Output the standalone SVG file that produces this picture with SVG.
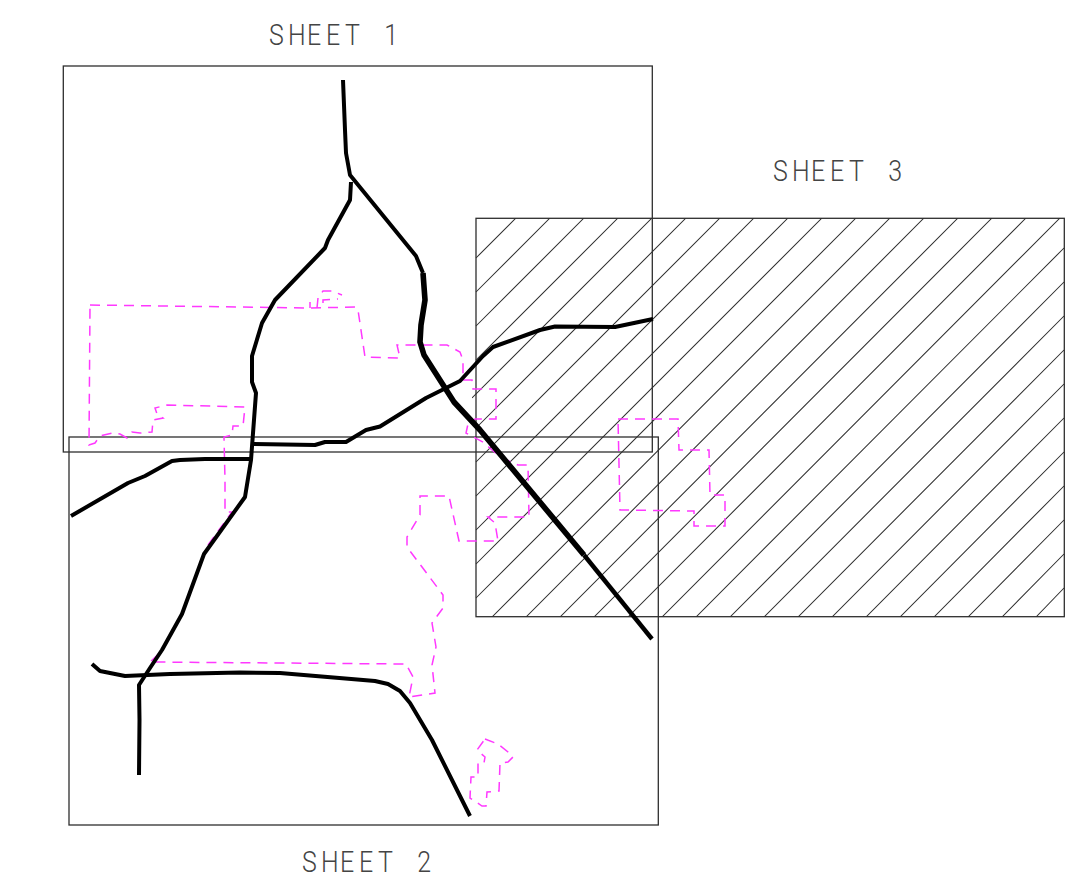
<svg xmlns="http://www.w3.org/2000/svg" width="1074" height="878" viewBox="0 0 1074 878">
<style>
.sheet{fill:none;stroke:#2e2e2e;stroke-width:1.3}
.hatch{fill:none;stroke:#2e2e2e;stroke-width:1.05}
.road{fill:none;stroke:#000;stroke-width:4;stroke-linejoin:round;stroke-linecap:butt}
.heavy{stroke-width:5.6}
.med{stroke-width:4.4}
.bound{fill:none;stroke:#ff38ff;stroke-width:1.5;stroke-dasharray:10 7}
.label{font-family:Roboto,"Liberation Sans",sans-serif;font-weight:300;font-size:29px;fill:#444}
</style>
<defs>
<clipPath id="sheet3clip"><rect x="472" y="218" width="594" height="399"/></clipPath>
</defs>
<rect width="1074" height="878" fill="#fff"/>
<g id="sheet-3">
<path class="hatch" clip-path="url(#sheet3clip)" d="M516 218L476 258M550 218L476 292M584 218L476 326M618 218L476 360M652 218L472 398M686 218L476 428M720 218L476 462M754 218L476 496M788 218L476 530M822 218L476 564M856 218L476 598M890 218L492 617M924 218L526 617M958 218L560 617M992 218L594 617M1026 218L628 617M1060 218L662 617M1064 248L696 617M1064 282L730 617M1064 316L764 617M1064 350L798 617M1064 384L832 617M1064 418L866 617M1064 452L900 617M1064 486L934 617M1064 520L968 617M1064 554L1002 617M1064 588L1036 617"/>
<rect class="sheet" x="476" y="218.3" width="588.3" height="398.4"/>
<text class="label" transform="translate(773,181) scale(.86,1)" x="0 22.1 44.2 66.3 88.4 110 134">SHEET 3</text>
</g>
<g id="sheet-1">
<rect class="sheet" x="63.3" y="66" width="589" height="386"/>
<text class="label" transform="translate(269,44.5) scale(.86,1)" x="0 22.1 44.2 66.3 88.4 110 134">SHEET 1</text>
</g>
<g id="sheet-2">
<rect class="sheet" x="69" y="437" width="589.3" height="388"/>
<text class="label" transform="translate(302,872) scale(.86,1)" x="0 22.1 44.2 66.3 88.4 110 134">SHEET 2</text>
</g>
<g id="boundaries">
<path class="bound" d="M90 305L310 308L356 307Q358 308 358 310L365 357L400 358L397 345L432 345L447 345L460 352L463 360L463 380L472 380L473 389L496 389L496 419L475 419L468 424L466 433L483 442L500 457L518 465L528 465L529 517L488 517L495 523L498 541L459 541L449 496L420 496L420 515L407 537L407 547L443 595L443 608L432 623L436 647L432 665L435 693L409 697L413 677L406 664L150 662L163 650"/>
<path class="bound" d="M208 545L232 512L225 512L225 480L224 437L232 435L233 426L243 426L245 407L167 405L155 408L157 414L163 418L153 420L152 432L140 433L132 432L127 438L120 434L113 433L100 436L95 443L89 445L90 305"/>
<path class="bound" d="M310 302L310 308M317 308L318 298L323 291L332 291L342 295M323 303L323 300L338 299"/>
<path class="bound" d="M618 419L678 419L679 450L709 450L710 495L725 495L725 526L694 526L694 511L620 510Z"/>
<path class="bound" d="M485 739L498 744L508 752L513 757L508 762L500 763L499 791L487 792L486 806L482 806L470 798L471 777L478 777L478 763L484 763L485 757L477 750Z"/>
</g>
<g id="connectors">
<path class="road" d="M343 80L345 130L346 153L350 175L416 256L423 273"/>
<path class="road heavy" d="M423 273L425 300L421 325L420 342L424 355L454 402L480 430L584 555"/>
<path class="road med" d="M584 555L652 639"/>
<path class="road" d="M351 182L350 200L328 240L325 248L275 300L262 323L252 356L252 382L256 393L251 460L245 497L204 554L182 614L162 650L150 668L139 685L139.500 720L139 775"/>
<path class="road" d="M71 516L128 483L145 476L172 461L180 460L205 459L251 459"/>
<path class="road" d="M253 444L315 445L325 442L346 442L366 430L380 426.500L426 398L460 381L483 356L493 347L540 330L555 326.500L615 327L653 319"/>
<path class="road" d="M92 664L100 671L125 676L170 674L240 672.500L280 673L375 681L388 684L400 691L410 703L432 740L470 816"/>
</g>
</svg>
